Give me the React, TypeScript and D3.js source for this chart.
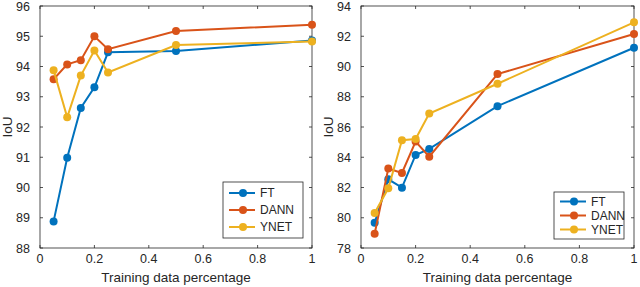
import React from "react";
import { scaleLinear, line } from "d3";

const xs = [0.05, 0.1, 0.15, 0.2, 0.25, 0.5, 1];
const seriesNames = ["FT", "DANN", "YNET"];
const seriesColors = ["#0072BD", "#D95319", "#EDB120"];

const leftFT = [88.88, 90.98, 92.63, 93.31, 94.47, 94.51, 94.86];
const leftDANN = [93.58, 94.07, 94.21, 95.0, 94.57, 95.17, 95.38];
const leftYNET = [93.88, 92.32, 93.7, 94.53, 93.8, 94.71, 94.83];

const rightFT = [79.67, 82.54, 81.99, 84.15, 84.55, 87.38, 91.24];
const rightDANN = [78.94, 83.25, 82.96, 85.04, 84.04, 89.5, 92.15];
const rightYNET = [80.31, 81.95, 85.13, 85.21, 86.89, 88.86, 92.92];

const xTicks = [0, 0.2, 0.4, 0.6, 0.8, 1];
const leftYTicks = [88, 89, 90, 91, 92, 93, 94, 95, 96];
const rightYTicks = [78, 80, 82, 84, 86, 88, 90, 92, 94];

const font = "'Liberation Sans', Arial, Helvetica, sans-serif";
const textColor = "#262626";

interface PanelProps {
	left: number;
	right: number;
	top: number;
	bottom: number;
	yDomain: [number, number];
	yTicks: number[];
	series: number[][];
	legend: { x: number; y: number; w: number; h: number; gap: number };
}

const Panel: React.FC<PanelProps> = ({ left, right, top, bottom, yDomain, yTicks, series, legend }) => {
	const x = scaleLinear().domain([0, 1]).range([left, right]);
	const y = scaleLinear().domain(yDomain).range([bottom, top]);
	const tl = 3;
	const path = line<number>()
		.x((_, i) => x(xs[i]))
		.y((d) => y(d));

	return (
		<g>
			<rect x={left} y={top} width={right - left} height={bottom - top} fill="#fff" stroke={textColor} strokeWidth={0.8} />
			{xTicks.map((t) => (
				<g key={"x" + t}>
					<line x1={x(t)} x2={x(t)} y1={bottom} y2={bottom - tl} stroke={textColor} strokeWidth={0.8} />
					<line x1={x(t)} x2={x(t)} y1={top} y2={top + tl} stroke={textColor} strokeWidth={0.8} />
					<text x={x(t)} y={bottom + 15} textAnchor="middle" fontSize={12.5} fill={textColor} fontFamily={font}>
						{t}
					</text>
				</g>
			))}
			{yTicks.map((t) => (
				<g key={"y" + t}>
					<line x1={left} x2={left + tl} y1={y(t)} y2={y(t)} stroke={textColor} strokeWidth={0.8} />
					<line x1={right} x2={right - tl} y1={y(t)} y2={y(t)} stroke={textColor} strokeWidth={0.8} />
					<text x={left - 10} y={y(t) + 4.5} textAnchor="end" fontSize={12.5} fill={textColor} fontFamily={font}>
						{t}
					</text>
				</g>
			))}
			{series.map((s, si) => (
				<g key={"s" + si}>
					<path d={path(s) ?? ""} fill="none" stroke={seriesColors[si]} strokeWidth={2} />
					{s.map((v, i) => (
						<circle key={i} cx={x(xs[i])} cy={y(v)} r={4} fill={seriesColors[si]} />
					))}
				</g>
			))}
			<text x={(left + right) / 2} y={bottom + 34} textAnchor="middle" fontSize={13.5} fill={textColor} fontFamily={font}>
				Training data percentage
			</text>
			<text
				transform={`translate(${left - 28}, ${(top + bottom) / 2}) rotate(-90)`}
				textAnchor="middle"
				fontSize={13.5}
				fill={textColor}
				fontFamily={font}
			>
				IoU
			</text>
			<rect x={legend.x} y={legend.y} width={legend.w} height={legend.h} fill="#fff" stroke={textColor} strokeWidth={0.8} />
			{seriesNames.map((n, i) => {
				const ly = legend.y + legend.h / 2 + (i - 1) * legend.gap;
				return (
					<g key={n}>
						<line x1={legend.x + 6} x2={legend.x + 32} y1={ly} y2={ly} stroke={seriesColors[i]} strokeWidth={2} />
						<circle cx={legend.x + 20} cy={ly} r={4} fill={seriesColors[i]} />
						<text x={legend.x + 37} y={ly + 4} fontSize={12} fill={textColor} fontFamily={font}>
							{n}
						</text>
					</g>
				);
			})}
		</g>
	);
};

export default function App() {
	return (
		<svg width={640} height={287} style={{ position: "absolute", left: 0, top: 0, background: "#fff" }}>
			<Panel
				left={40}
				right={312}
				top={6}
				bottom={248}
				yDomain={[88, 96]}
				yTicks={leftYTicks}
				series={[leftFT, leftDANN, leftYNET]}
				legend={{ x: 223, y: 182, w: 80, h: 56, gap: 17 }}
			/>
			<Panel
				left={361}
				right={634}
				top={6}
				bottom={248}
				yDomain={[78, 94]}
				yTicks={rightYTicks}
				series={[rightFT, rightDANN, rightYNET]}
				legend={{ x: 554, y: 192, w: 70, h: 47, gap: 14 }}
			/>
		</svg>
	);
}
